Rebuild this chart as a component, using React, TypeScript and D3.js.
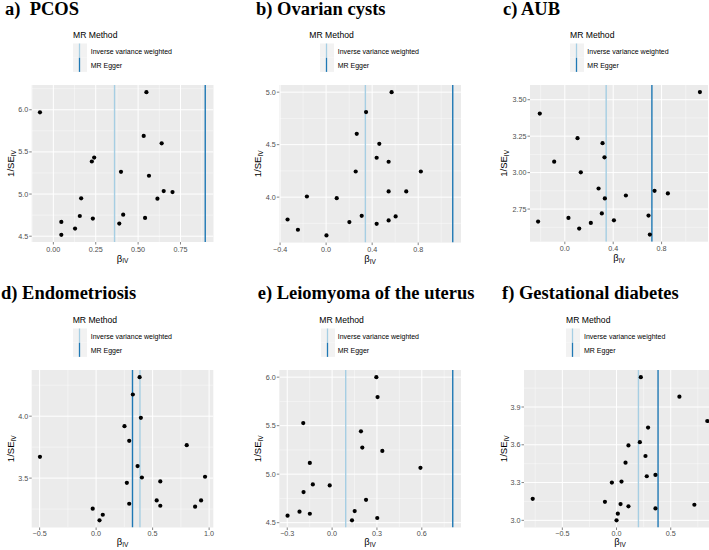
import React from 'react';
import * as d3 from 'd3';

// ---------- data ----------
const pcosBeta = [-0.079, 0.549, 0.533, 0.639, 0.241, 0.227, 0.399, 0.564, 0.651, 0.703, 0.614, 0.164, 0.156, 0.233, 0.412, 0.389, 0.541, 0.047, 0.128, 0.047];
const pcosInvSE = [5.969, 6.209, 5.689, 5.602, 5.433, 5.386, 5.264, 5.217, 5.035, 5.024, 4.945, 4.949, 4.740, 4.709, 4.756, 4.650, 4.717, 4.669, 4.591, 4.516];
const pcosLines = [0.361, 0.896];

const cystBeta = [0.569, 0.347, 0.266, 0.462, 0.439, 0.543, 0.257, 0.823, 0.543, 0.696, -0.167, 0.092, -0.335, -0.245, 0.003, 0.202, 0.309, 0.439, 0.543, 0.604];
const cystInvSE = [5.0, 4.810, 4.603, 4.508, 4.375, 4.337, 4.244, 4.244, 4.054, 4.054, 4.006, 3.990, 3.787, 3.689, 3.635, 3.762, 3.822, 3.746, 3.778, 3.816];
const cystLines = [0.341, 1.100];

const aubBeta = [1.117, -0.207, 0.105, 0.312, -0.088, 0.328, 0.132, 0.279, 0.331, 0.505, 0.742, 0.852, 0.306, 0.030, -0.221, 0.215, 0.406, 0.119, 0.692, 0.703];
const aubInvSE = [3.552, 3.405, 3.236, 3.202, 3.075, 3.105, 3.002, 2.891, 2.823, 2.843, 2.875, 2.857, 2.720, 2.689, 2.664, 2.655, 2.673, 2.616, 2.705, 2.575];
const aubLines = [0.342, 0.720];

const endoBeta = [0.385, 0.325, 0.396, 0.251, 0.293, 0.802, -0.497, 0.367, 0.405, 0.964, 0.272, 0.568, 0.536, 0.568, 0.293, 0.876, 0.929, -0.030, 0.059, 0.030];
const endoInvSE = [4.315, 4.175, 3.987, 3.919, 3.801, 3.766, 3.672, 3.597, 3.505, 3.511, 3.462, 3.473, 3.320, 3.277, 3.293, 3.269, 3.320, 3.253, 3.204, 3.159];
const endoLines = [0.388, 0.322];

const leioBeta = [0.296, 0.304, -0.193, 0.193, 0.202, 0.336, -0.149, 0.591, -0.129, -0.016, -0.191, 0.227, -0.298, -0.218, -0.149, 0.151, 0.133, 0.302];
const leioInvSE = [6.0, 5.795, 5.527, 5.442, 5.274, 5.240, 5.116, 5.065, 4.894, 4.884, 4.815, 4.736, 4.572, 4.613, 4.592, 4.620, 4.524, 4.548];
const leioLines = [0.091, 0.807];

const gdmBeta = [0.224, 0.580, 0.837, 0.291, 0.215, 0.110, 0.267, 0.083, 0.279, 0.359, -0.043, 0.046, -0.773, -0.107, 0.037, 0.110, 0.718, 0.359, 0.012, 0.0];
const gdmInvSE = [4.137, 3.982, 3.789, 3.737, 3.621, 3.595, 3.511, 3.458, 3.350, 3.361, 3.3, 3.308, 3.171, 3.147, 3.129, 3.111, 3.124, 3.095, 3.053, 3.0];
const gdmLines = [0.202, 0.383];

const titles = ['a)  PCOS', 'b) Ovarian cysts', 'c) AUB', 'd) Endometriosis', 'e) Leiomyoma of the uterus', 'f) Gestational diabetes'];
const methods = ['Inverse variance weighted', 'MR Egger'];
const methodColors = ['#a6cee3', '#1f78b4'];

const xTickSets = [[0, 0.25, 0.5, 0.75], [-0.4, 0, 0.4, 0.8], [0, 0.4, 0.8], [-0.5, 0, 0.5, 1.0], [-0.3, 0, 0.3, 0.6], [-0.5, 0, 0.5]];
const xTickDigits = [2, 1, 1, 1, 1, 1];
const yTickSets = [[4.5, 5.0, 5.5, 6.0], [4.0, 4.5, 5.0], [2.75, 3.0, 3.25, 3.5], [3.5, 4.0], [4.5, 5.0, 5.5, 6.0], [3.0, 3.3, 3.6, 3.9]];
const yTickDigits = [1, 1, 2, 1, 1, 1];

// ---------- layout ----------
type Layout = { left: number; right: number; top: number; bottom: number; titleX: number; titleY: number; legTitleX: number; legKeyX: number; legTextX: number; legY: number; yTitleX: number; tickOff: number; xTitleOff: number };
const layouts: Layout[] = [
  { left: 31.7, right: 213.5, top: 85, bottom: 242, titleX: 5, titleY: 14.5, legTitleX: 73, legKeyX: 73, legTextX: 90.7, legY: 0, yTitleX: 10, tickOff: 9.7, xTitleOff: 19.5 },
  { left: 279.3, right: 461, top: 85, bottom: 242.6, titleX: 256, titleY: 14.5, legTitleX: 309.3, legKeyX: 320, legTextX: 337.7, legY: 0, yTitleX: 257.7, tickOff: 9.7, xTitleOff: 19.5 },
  { left: 530, right: 708, top: 85, bottom: 241.7, titleX: 503, titleY: 14.5, legTitleX: 570, legKeyX: 570, legTextX: 587.3, legY: 0, yTitleX: 503.3, tickOff: 9.7, xTitleOff: 19.5 },
  { left: 31.7, right: 213.3, top: 370, bottom: 527.5, titleX: 1, titleY: 299, legTitleX: 72.7, legKeyX: 73, legTextX: 90.7, legY: 285, yTitleX: 10, tickOff: 8.3, xTitleOff: 17.8 },
  { left: 279.3, right: 461, top: 370, bottom: 527.5, titleX: 257.7, titleY: 299, legTitleX: 319.3, legKeyX: 321, legTextX: 337.7, legY: 285, yTitleX: 257.7, tickOff: 8.3, xTitleOff: 17.8 },
  { left: 524, right: 716, top: 370, bottom: 527.5, titleX: 502, titleY: 299, legTitleX: 566, legKeyX: 566, legTextX: 584, legY: 285, yTitleX: 503.3, tickOff: 8.3, xTitleOff: 17.8 },
];

const panelData = [
  { beta: pcosBeta, invse: pcosInvSE, lines: pcosLines },
  { beta: cystBeta, invse: cystInvSE, lines: cystLines },
  { beta: aubBeta, invse: aubInvSE, lines: aubLines },
  { beta: endoBeta, invse: endoInvSE, lines: endoLines },
  { beta: leioBeta, invse: leioInvSE, lines: leioLines },
  { beta: gdmBeta, invse: gdmInvSE, lines: gdmLines },
];

const SANS = '"Liberation Sans", Arial, Helvetica, sans-serif';
const SERIF = '"Liberation Serif", "Times New Roman", serif';

function expand(vals: number[]): [number, number] {
  const [lo, hi] = d3.extent(vals) as [number, number];
  const r = hi - lo;
  return [lo - 0.05 * r, hi + 0.05 * r];
}

function minors(majors: number[], dom: [number, number]): number[] {
  const step = majors[1] - majors[0];
  const out: number[] = [];
  const ext = [majors[0] - step, ...majors, majors[majors.length - 1] + step];
  for (let i = 0; i < ext.length - 1; i++) {
    const m = (ext[i] + ext[i + 1]) / 2;
    if (m >= dom[0] && m <= dom[1]) out.push(m);
  }
  return out;
}

function Panel({ idx }: { idx: number }) {
  const L = layouts[idx];
  const D = panelData[idx];
  const xDom = expand([...D.beta, ...D.lines]);
  const yDom = expand(D.invse);
  const x = d3.scaleLinear().domain(xDom).range([L.left, L.right]);
  const y = d3.scaleLinear().domain(yDom).range([L.bottom, L.top]);
  const xt = xTickSets[idx];
  const yt = yTickSets[idx];
  const xm = minors(xt, xDom);
  const ym = minors(yt, yDom);
  const midX = (L.left + L.right) / 2;
  const midY = (L.top + L.bottom) / 2;
  const ly = L.legY;
  return (
    <g>
      <text x={L.titleX} y={L.titleY} fontFamily={SERIF} fontWeight="bold" fontSize={18.5} fill="#000" style={{ whiteSpace: 'pre' }}>{titles[idx]}</text>
      {/* legend */}
      <text x={L.legTitleX} y={ly + 38.3} fontFamily={SANS} fontSize={8.6} fill="#000">MR Method</text>
      {methods.map((m, i) => (
        <g key={m}>
          <rect x={L.legKeyX} y={ly + 43.5 + i * 14.2} width={14} height={14.2} fill="#f2f2f2" />
          <line x1={L.legKeyX + 6.5} x2={L.legKeyX + 6.5} y1={ly + 43.5 + i * 14.2} y2={ly + 43.5 + (i + 1) * 14.2} stroke={methodColors[i]} strokeWidth={1.3} />
          <text x={L.legTextX} y={ly + 53.8 + i * 14.2} fontFamily={SANS} fontSize={7} fill="#000">{m}</text>
        </g>
      ))}
      {/* panel */}
      <defs>
        <clipPath id={`clip${idx}`}>
          <rect x={L.left} y={L.top} width={L.right - L.left} height={L.bottom - L.top} />
        </clipPath>
      </defs>
      <rect x={L.left} y={L.top} width={L.right - L.left} height={L.bottom - L.top} fill="#ebebeb" />
      <g clipPath={`url(#clip${idx})`}>
        {xm.map((v) => <line key={'xm' + v} x1={x(v)} x2={x(v)} y1={L.top} y2={L.bottom} stroke="#fff" strokeWidth={0.5} strokeOpacity={0.8} />)}
        {ym.map((v) => <line key={'ym' + v} y1={y(v)} y2={y(v)} x1={L.left} x2={L.right} stroke="#fff" strokeWidth={0.5} strokeOpacity={0.8} />)}
        {xt.map((v) => <line key={'xg' + v} x1={x(v)} x2={x(v)} y1={L.top} y2={L.bottom} stroke="#fff" strokeWidth={1} />)}
        {yt.map((v) => <line key={'yg' + v} y1={y(v)} y2={y(v)} x1={L.left} x2={L.right} stroke="#fff" strokeWidth={1} />)}
        {D.lines.map((v, i) => (
          <line key={'vl' + i} x1={x(v)} x2={x(v)} y1={L.top} y2={L.bottom} stroke={methodColors[i]} strokeWidth={1.4} />
        ))}
        {D.beta.map((b, i) => <circle key={'p' + i} cx={x(b)} cy={y(D.invse[i])} r={2.1} fill="#000" />)}
      </g>
      {/* axes */}
      {xt.map((v) => (
        <g key={'xt' + v}>
          <line x1={x(v)} x2={x(v)} y1={L.bottom} y2={L.bottom + 2.5} stroke="#333" strokeWidth={0.6} />
          <text x={x(v)} y={L.bottom + L.tickOff} textAnchor="middle" fontFamily={SANS} fontSize={7.2} fill="#4d4d4d">{d3.format(`.${xTickDigits[idx]}f`)(v)}</text>
        </g>
      ))}
      {yt.map((v) => (
        <g key={'yt' + v}>
          <line x1={L.left - 2.5} x2={L.left} y1={y(v)} y2={y(v)} stroke="#333" strokeWidth={0.6} />
          <text x={L.left - 3.5} y={y(v) + 2.5} textAnchor="end" fontFamily={SANS} fontSize={7.2} fill="#4d4d4d">{d3.format(`.${yTickDigits[idx]}f`)(v)}</text>
        </g>
      ))}
      <text x={midX} y={L.bottom + L.xTitleOff} textAnchor="middle" fontFamily={SANS} fontSize={9.5} fill="#000">
        β<tspan fontSize={6.5} dy={1.5}>IV</tspan>
      </text>
      <text transform={`translate(${L.yTitleX + 3.5},${midY}) rotate(-90)`} textAnchor="middle" fontFamily={SANS} fontSize={9.5} fill="#000">
        1/SE<tspan fontSize={6.5} dy={2}>IV</tspan>
      </text>
    </g>
  );
}

export default function App() {
  return (
    <svg width={709} height={550} viewBox="0 0 709 550" style={{ position: 'absolute', left: 0, top: 0, background: '#fff' }}>
      <rect width={709} height={550} fill="#fff" />
      {layouts.map((_, i) => <Panel key={i} idx={i} />)}
    </svg>
  );
}
